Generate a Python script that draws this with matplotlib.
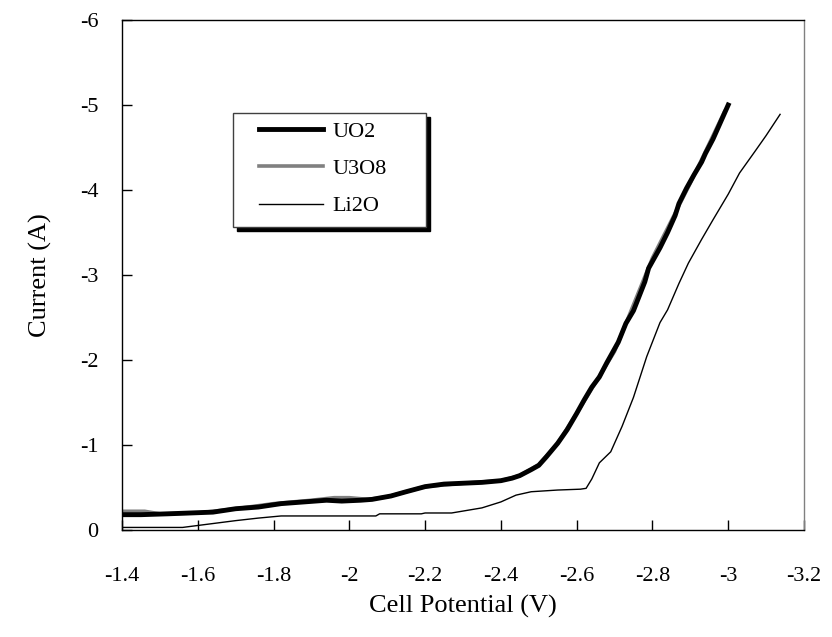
import matplotlib
matplotlib.use("Agg")
import matplotlib.pyplot as plt
from matplotlib.patches import Rectangle
from matplotlib.ticker import FuncFormatter

plt.rcParams['font.family'] = ['Liberation Serif', 'DejaVu Serif']
plt.rcParams['axes.unicode_minus'] = False

# DATA

uo2_v = [-1.40, -1.45, -1.52, -1.58, -1.64, -1.70, -1.76, -1.82, -1.88, -1.94,
         -1.98, -2.03, -2.06, -2.11, -2.15, -2.20, -2.25, -2.30, -2.35, -2.40,
         -2.43, -2.45, -2.48, -2.50, -2.52, -2.55, -2.575, -2.60, -2.62, -2.64,
         -2.66, -2.68, -2.71, -2.73, -2.75, -2.78, -2.79, -2.82, -2.84, -2.86,
         -2.87, -2.89, -2.91, -2.93, -2.94, -2.96, -2.98, -3.00]
uo2_i = [-0.18, -0.18, -0.19, -0.20, -0.21, -0.25, -0.27, -0.31, -0.33, -0.35,
         -0.34, -0.35, -0.36, -0.40, -0.45, -0.51, -0.54, -0.55, -0.56, -0.58,
         -0.61, -0.64, -0.71, -0.76, -0.86, -1.02, -1.18, -1.37, -1.53, -1.68,
         -1.80, -1.97, -2.21, -2.43, -2.58, -2.92, -3.08, -3.32, -3.50, -3.70,
         -3.84, -4.02, -4.18, -4.33, -4.43, -4.60, -4.80, -5.00]

u3o8_v = [-1.40, -1.46, -1.50, -1.60, -1.70, -1.80, -1.90, -1.96, -2.00, -2.05,
          -2.10, -2.20, -2.30, -2.40, -2.45, -2.50, -2.55, -2.60, -2.70, -2.80,
          -2.90, -2.99]
u3o8_i = [-0.22, -0.22, -0.19, -0.20, -0.25, -0.31, -0.35, -0.38, -0.38, -0.36,
          -0.39, -0.51, -0.55, -0.58, -0.64, -0.77, -1.02, -1.37, -2.10, -3.20,
          -4.08, -4.92]

li2o_v = [-1.40, -1.56, -1.63, -1.70, -1.76, -1.82, -2.07, -2.08, -2.19, -2.20,
          -2.27, -2.31, -2.35, -2.40, -2.44, -2.48, -2.55, -2.61, -2.625, -2.64,
          -2.66, -2.69, -2.72, -2.75, -2.785, -2.82, -2.84, -2.87, -2.895, -2.93,
          -2.96, -3.00, -3.03, -3.07, -3.10, -3.137]
li2o_i = [-0.03, -0.03, -0.07, -0.11, -0.14, -0.165, -0.165, -0.19, -0.19, -0.20,
          -0.20, -0.23, -0.26, -0.33, -0.41, -0.45, -0.47, -0.48, -0.49, -0.60,
          -0.79, -0.92, -1.22, -1.56, -2.04, -2.44, -2.59, -2.90, -3.14, -3.42,
          -3.65, -3.95, -4.20, -4.45, -4.64, -4.89]

x_ticks = [-1.4, -1.6, -1.8, -2.0, -2.2, -2.4, -2.6, -2.8, -3.0, -3.2]
y_ticks = [0, -1, -2, -3, -4, -5, -6]

# PLOT

fig = plt.figure(figsize=(8.32, 6.37), dpi=100)
ax = fig.add_axes([0.1466, 0.168, 0.8197, 0.8006])

ax.plot(u3o8_v, u3o8_i, color='#808080', lw=2.6, label='U3O8', zorder=2)
ax.plot(uo2_v, uo2_i, color='black', lw=3.5, label='UO2', zorder=3)
ax.plot(li2o_v, li2o_i, color='black', lw=1.0, label='Li2O', zorder=3)

ax.set_xlim(-1.4, -3.2)
ax.set_ylim(0, -6)
ax.set_xticks(x_ticks)
ax.set_yticks(y_ticks)
fmt = FuncFormatter(lambda v, p: '%g' % v)
ax.xaxis.set_major_formatter(fmt)
ax.yaxis.set_major_formatter(fmt)
ax.tick_params(axis='x', direction='in', length=7, width=1, pad=27, labelsize=16)
ax.tick_params(axis='y', direction='in', length=7, width=1, pad=17, labelsize=16)
for s in ax.spines.values():
    s.set_linewidth(1)
ax.spines['right'].set_color('#808080')

ax.set_xlabel('Cell Potential (V)', fontsize=19, labelpad=6)
ax.set_ylabel('Current (A)', fontsize=19, labelpad=20)

# legend box with black drop shadow
x0, x1, y0, y1 = 0.1623, 0.4453, 0.5947, 0.8182
ax.add_patch(Rectangle((x0 + 0.0066, y0 - 0.0088), x1 - x0, y1 - y0,
                       transform=ax.transAxes, facecolor='black',
                       edgecolor='black', zorder=4))
ax.add_patch(Rectangle((x0, y0), x1 - x0, y1 - y0, transform=ax.transAxes,
                       facecolor='white', edgecolor='#404040', lw=1, zorder=5))

handles, labels = ax.get_legend_handles_labels()
order = [1, 0, 2]
leg = ax.legend([handles[k] for k in order], [labels[k] for k in order],
                loc='center left', bbox_to_anchor=(0.2009, 0.708),
                frameon=False, fontsize=16, handlelength=2.9,
                handletextpad=0.4, labelspacing=0.75, borderpad=0,
                borderaxespad=0)
leg.set_zorder(6)

fig.savefig('out.png', dpi=100)
